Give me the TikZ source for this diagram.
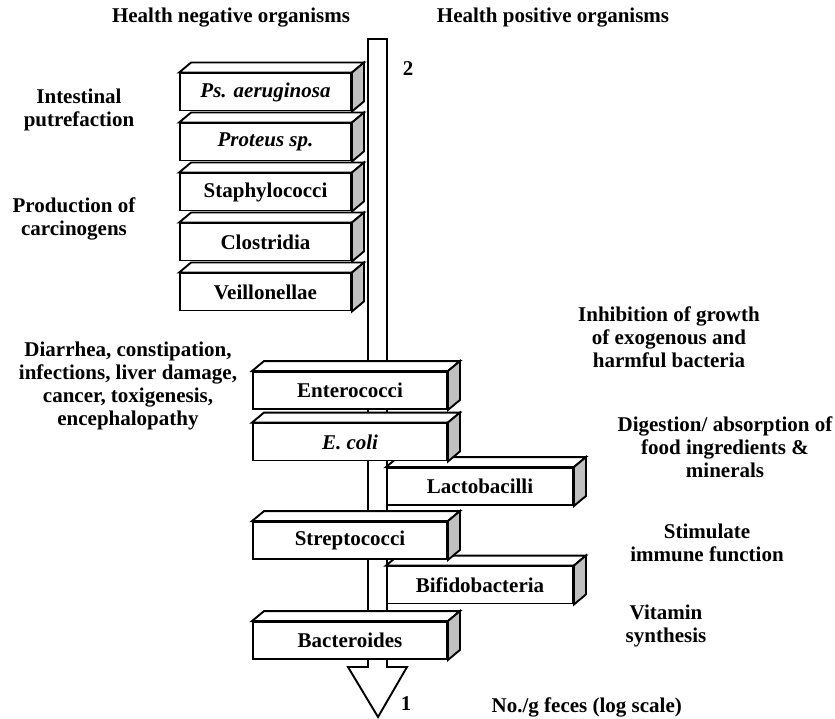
\documentclass[tikz,border=0pt]{standalone}
\usepackage{fontspec}
\setmainfont{Liberation Serif}
\definecolor{sidegray}{RGB}{192,192,192}
\tikzset{
  lbl/.style={font=\fontsize{21}{23}\selectfont\bfseries, align=center, inner sep=0pt},
  bugbox/.style={draw, fill=white, line width=1.9pt, inner sep=0pt, minimum height=37pt,
    font=\fontsize{21}{23}\selectfont\bfseries},
  face/.style={draw, fill=white, line width=1.9pt},
  shaft/.style={draw, fill=white, line width=1.9pt}
}
\newcommand\bugfaces[1]{%
  \draw[face] (#1.north west) -- ++(12,-10) -- ([shift={(12,-10)}]#1.north east) -- (#1.north east) -- cycle;
  \draw[face, fill=sidegray] (#1.north east) -- ++(12,-10) -- ([shift={(12,-10)}]#1.south east) -- (#1.south east) -- cycle;
}
\begin{document}
\begin{tikzpicture}[x=1pt, y=-1pt]
    \useasboundingbox (0,0) rectangle (835,719);

    \draw[shaft] (368,39) -- (387,39) -- (387,667) -- (407,667) -- (378,717) -- (348,667) -- (368,667) -- cycle;

    \node[bugbox, minimum width=186pt] (lacto) at (480,486.5) {Lactobacilli};
    \bugfaces{lacto}
    \node[bugbox, minimum width=186pt] (bifido) at (480,585) {Bifidobacteria};
    \bugfaces{bifido}

    \foreach \name/\txt [count=\i from 0] in {psa/\textit{Ps. aeruginosa}, prot/\textit{Proteus sp.},
        staph/Staphylococci, clos/Clostridia, veil/Veillonellae} {
        \node[bugbox, minimum width=171pt] (\name) at (265.5,92+50*\i) {\txt};
        \bugfaces{\name}
    }

    \node[bugbox, minimum width=194pt] (entero) at (350,390.5) {Enterococci};
    \bugfaces{entero}
    \node[bugbox, minimum width=194pt] (ecoli) at (350,442) {\textit{E. coli}};
    \bugfaces{ecoli}
    \node[bugbox, minimum width=194pt] (strep) at (350,540.5) {Streptococci};
    \bugfaces{strep}
    \node[bugbox, minimum width=194pt] (bactero) at (350,640.5) {Bacteroides};
    \bugfaces{bactero}

    \node[lbl] (neg) at (231,18) {Health negative organisms};
    \node[lbl] (pos) at (553,18) {Health positive organisms};
    \node[lbl] (two) at (408,69) {2};
    \node[lbl] (one) at (406,704) {1};
    \node[lbl] (putref) at (79,110) {Intestinal\\putrefaction};
    \node[lbl] (carcino) at (74,219) {Production of\\carcinogens};
    \node[lbl] (disease) at (128,386) {Diarrhea, constipation,\\infections, liver damage,\\cancer, toxigenesis,\\encephalopathy};
    \node[lbl] (inhib) at (669,337) {Inhibition of growth\\of exogenous and\\harmful bacteria};
    \node[lbl] (digest) at (725,447) {Digestion/ absorption of\\food ingredients \&\\minerals};
    \node[lbl] (immune) at (707,543) {Stimulate\\immune function};
    \node[lbl] (vitamin) at (666,626) {Vitamin\\synthesis};
    \node[lbl, anchor=base east] (scale) at (682,712) {No./g feces (log scale)};
\end{tikzpicture}
\end{document}
